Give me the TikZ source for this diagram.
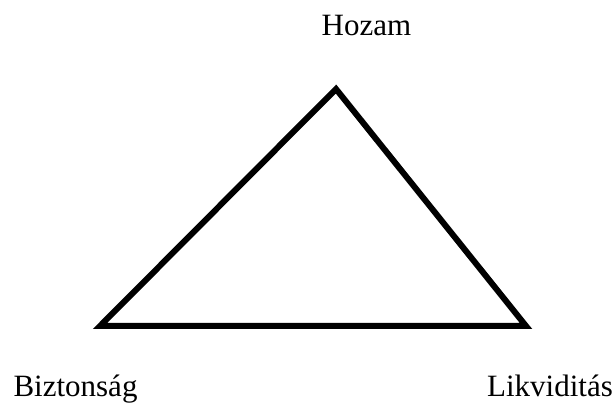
\documentclass[tikz,border=0pt]{standalone}
\usepackage{fontspec}
\setmainfont{Liberation Serif}
\begin{document}
\begin{tikzpicture}[x=1pt,y=-1pt,
  lbl/.style={inner sep=0pt,anchor=base,font=\fontsize{31}{37}\selectfont},
  side/.style={line width=6pt,line join=miter,black}]
\useasboundingbox (0,0) rectangle (616,403);
\coordinate (top) at (336,89);
\coordinate (bl) at (100,326);
\coordinate (br) at (526,326);
\draw[side] (top) -- (bl) -- (br) -- cycle;
\node[lbl] (hozam) at (366.5,36) {Hozam};
\node[lbl] (bizt) at (75.5,396) {Biztonság};
\node[lbl] (likv) at (550,396) {Likviditás};
\end{tikzpicture}
\end{document}
